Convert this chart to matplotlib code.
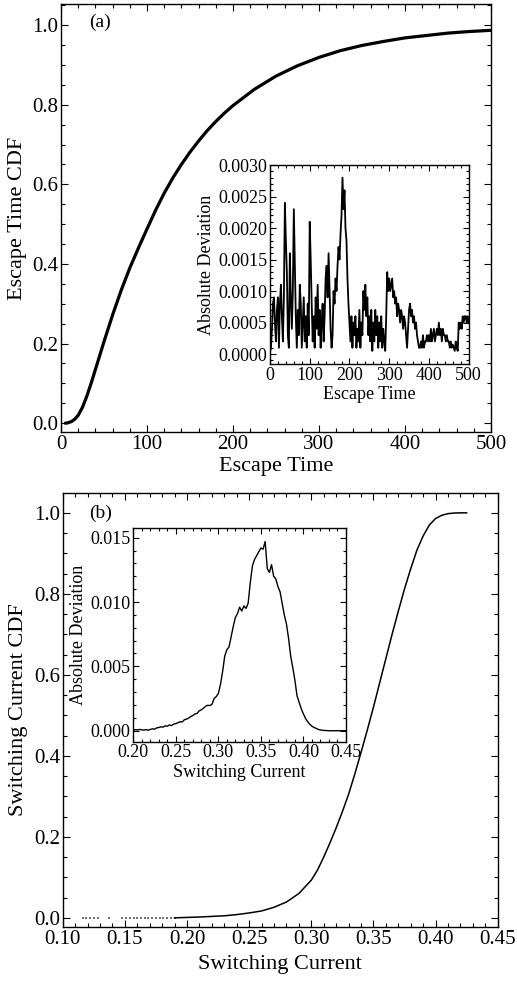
"""Escape time / switching current CDF figure with deviation insets
"""

import numpy as np
import matplotlib as mpl
mpl.use('Agg')
from matplotlib import pyplot as plt
from matplotlib.ticker import MultipleLocator, FormatStrFormatter

# ---- Panel (a): escape time CDF
esc_time = [5, 8, 12, 16, 20, 25, 30, 35, 40, 45, 50, 60, 70, 80, 90, 100, 110, 120,
            130, 140, 150, 160, 170, 180, 190, 200, 225, 250, 275, 300, 325, 350, 375,
            400, 425, 450, 475, 500]
esc_cdf = [0.000, 0.001, 0.004, 0.010, 0.020, 0.040, 0.068, 0.100, 0.135, 0.170, 0.205,
           0.272, 0.334, 0.390, 0.440, 0.488, 0.535, 0.578, 0.616, 0.650, 0.681, 0.709,
           0.735, 0.758, 0.779, 0.798, 0.839, 0.872, 0.898, 0.919, 0.936, 0.949, 0.959,
           0.968, 0.974, 0.980, 0.984, 0.987]

# inset (a): absolute deviation vs escape time (units of 1e-4), sampled every 2.5
esc_dev = [0.3, 1, 4, 8, 9, 5, 2, 7, 9, 1, 8, 11, 6, 2, 9, 24, 18, 13, 3, 1,
           16, 9, 4, 10, 23, 14, 6, 1, 7, 3, 11, 8, 1, 5, 9, 2, 6, 1, 8, 3,
           21, 15, 8, 2, 6, 1, 9, 4, 11, 3, 7, 1, 5, 8, 2, 6, 12, 14, 9, 16,
           10, 4, 1, 3, 10, 8, 12, 10, 14, 17, 15, 19, 22, 28, 23, 26, 20, 18, 12, 8,
           5, 2, 6, 1, 5, 3, 6, 1, 4, 2, 7, 1, 5, 3, 10, 7, 11, 6, 9, 3,
           6, 2, 7, 0.5, 5, 2, 7, 3, 6, 1, 5, 2, 6, 1, 4, 2, 0.5, 6, 13, 10,
           12, 10, 11, 12, 9, 10, 8, 9, 6, 8, 7, 5, 7, 6, 4, 6, 5, 3, 1, 4,
           7, 8, 6, 7, 5, 6, 4, 5, 3, 2, 1, 1, 2, 1, 3, 1, 2, 2, 3, 2,
           3, 2, 4, 2, 3, 4, 2, 3, 4, 3, 5, 3, 4, 2, 4, 3, 3, 2, 3, 2,
           2, 1, 2, 1, 1.5, 1, 0.5, 2, 1, 0.5, 5, 4, 5, 4, 6, 5, 6, 6, 5, 6, 5]

# ---- Panel (b): switching current CDF
sw_current = [0.19, 0.20, 0.21, 0.22, 0.23, 0.24, 0.25, 0.26, 0.27, 0.28, 0.29, 0.30,
              0.305, 0.31, 0.315, 0.32, 0.325, 0.33, 0.335, 0.34, 0.345, 0.35, 0.355,
              0.36, 0.365, 0.37, 0.375, 0.38, 0.385, 0.39, 0.395, 0.40, 0.405, 0.41,
              0.415, 0.42, 0.425]
sw_cdf = [0.0, 0.001, 0.002, 0.0035, 0.005, 0.008, 0.012, 0.017, 0.026, 0.039, 0.060,
          0.093, 0.118, 0.150, 0.185, 0.222, 0.262, 0.305, 0.355, 0.408, 0.463, 0.520,
          0.580, 0.640, 0.700, 0.757, 0.812, 0.862, 0.908, 0.943, 0.970, 0.986, 0.994,
          0.998, 0.9995, 1.0, 1.0]
# isolated samples sitting at zero at low current
sw_sparse = [0.116, 0.119, 0.122, 0.125, 0.128, 0.137, 0.148, 0.151, 0.154, 0.157,
             0.160, 0.163, 0.166, 0.169, 0.172, 0.175, 0.178, 0.181, 0.184, 0.187, 0.190]

# inset (b): absolute deviation vs switching current (units of 1e-3), every 0.0025
sw_dev = [0.05, 0.08, 0.06, 0.10, 0.07, 0.05, 0.09, 0.04, 0.10, 0.15,
          0.12, 0.22, 0.25, 0.30, 0.28, 0.38, 0.35, 0.45, 0.40, 0.52,
          0.55, 0.62, 0.70, 0.68, 0.85, 0.90, 0.98, 1.10, 1.18, 1.30,
          1.35, 1.55, 1.62, 1.75, 1.90, 1.98, 1.95, 2.05, 2.50, 2.65,
          2.90, 3.60, 4.60, 5.80, 6.30, 6.50, 7.30, 8.10, 8.80, 9.10,
          9.60, 9.30, 9.70, 9.50, 9.90, 11.5, 12.8, 13.3, 13.6, 13.9,
          14.2, 14.1, 14.7, 12.6, 12.3, 12.9, 12.0, 11.8, 11.2, 10.8,
          9.9, 9.0, 8.3, 7.2, 5.8, 4.9, 3.9, 2.7, 2.2, 1.7,
          1.3, 0.95, 0.7, 0.5, 0.35, 0.25, 0.18, 0.10, 0.06, 0.03,
          0.02, 0.01, 0.0, 0.0, 0.0, 0.0, 0.0, 0.0, 0.0, 0.0, 0.0]

plt.rcParams['font.family'] = ['Liberation Serif', 'DejaVu Serif']

MAIN_FS = 15
LABEL_FS = 16
INSET_FS = 13


def frame_ticks(ax, xmaj, xmin, ymaj, ymin, fs, major_len=5, minor_len=3):
    """Mathematica style frame: inward ticks on all four sides."""
    ax.xaxis.set_major_locator(MultipleLocator(xmaj))
    ax.xaxis.set_minor_locator(MultipleLocator(xmin))
    ax.yaxis.set_major_locator(MultipleLocator(ymaj))
    ax.yaxis.set_minor_locator(MultipleLocator(ymin))
    ax.tick_params(which='both', direction='in', top=True, right=True,
                   width=0.8, labelsize=fs, pad=2)
    ax.tick_params(which='major', length=major_len)
    ax.tick_params(which='minor', length=minor_len)
    for sp in ax.spines.values():
        sp.set_linewidth(1.0)


fig = plt.figure(figsize=(5.17, 9.86), dpi=100)

# ---- (a) main
ax1 = fig.add_axes([0.118, 0.5619, 0.8317, 0.434])
ax1.plot(esc_time, esc_cdf, color='black', lw=2.3, solid_capstyle='round')
ax1.set_xlim(0, 500)
ax1.set_ylim(-0.022, 1.053)
frame_ticks(ax1, 100, 20, 0.2, 0.05, MAIN_FS)
ax1.yaxis.set_major_formatter(FormatStrFormatter('%.1f'))
ax1.set_xlabel('Escape Time', fontsize=LABEL_FS, labelpad=2)
ax1.set_ylabel('Escape Time CDF', fontsize=LABEL_FS, labelpad=4)
ax1.text(0.09, 0.958, '(a)', transform=ax1.transAxes, fontsize=MAIN_FS - 1,
         ha='center', va='center')

# ---- (a) inset
esc_dev_time = np.linspace(0, 500, len(esc_dev))
ax1i = fig.add_axes([0.5222, 0.6311, 0.3843, 0.2015])
ax1i.plot(esc_dev_time, np.array(esc_dev) * 1e-4, color='black', lw=1.3)
ax1i.set_xlim(0, 500)
ax1i.set_ylim(-0.000154, 0.0030)
frame_ticks(ax1i, 100, 20, 0.0005, 0.0001, INSET_FS, major_len=4, minor_len=2)
ax1i.yaxis.set_major_formatter(FormatStrFormatter('%.4f'))
ax1i.set_xlabel('Escape Time', fontsize=INSET_FS, labelpad=2)
ax1i.set_ylabel('Absolute Deviation', fontsize=INSET_FS, labelpad=2)

# ---- (b) main
ax2 = fig.add_axes([0.1213, 0.0601, 0.8414, 0.4399])
ax2.plot(sw_current, sw_cdf, color='black', lw=1.1)
ax2.scatter(sw_sparse, np.zeros(len(sw_sparse)), s=1.5, color='0.45',
            marker='s', linewidths=0)
ax2.set_xlim(0.10, 0.45)
ax2.set_ylim(-0.022, 1.049)
frame_ticks(ax2, 0.05, 0.01, 0.2, 0.05, MAIN_FS)
ax2.xaxis.set_major_formatter(FormatStrFormatter('%.2f'))
ax2.yaxis.set_major_formatter(FormatStrFormatter('%.1f'))
ax2.set_xlabel('Switching Current', fontsize=LABEL_FS, labelpad=5)
ax2.set_ylabel('Switching Current CDF', fontsize=LABEL_FS, labelpad=4)
ax2.text(0.086, 0.954, '(b)', transform=ax2.transAxes, fontsize=MAIN_FS - 1,
         ha='center', va='center')

# ---- (b) inset
sw_dev_current = np.linspace(0.20, 0.45, len(sw_dev))
ax2i = fig.add_axes([0.2578, 0.2478, 0.4114, 0.2167])
ax2i.plot(sw_dev_current, np.array(sw_dev) * 1e-3, color='black', lw=1.0)
ax2i.set_xlim(0.20, 0.45)
ax2i.set_ylim(-0.00085, 0.01575)
frame_ticks(ax2i, 0.05, 0.01, 0.005, 0.001, INSET_FS, major_len=4, minor_len=2)
ax2i.xaxis.set_major_formatter(FormatStrFormatter('%.2f'))
ax2i.yaxis.set_major_formatter(FormatStrFormatter('%.3f'))
ax2i.set_xlabel('Switching Current', fontsize=INSET_FS, labelpad=2)
ax2i.set_ylabel('Absolute Deviation', fontsize=INSET_FS, labelpad=2)

fig.savefig('out.png', dpi=100)
